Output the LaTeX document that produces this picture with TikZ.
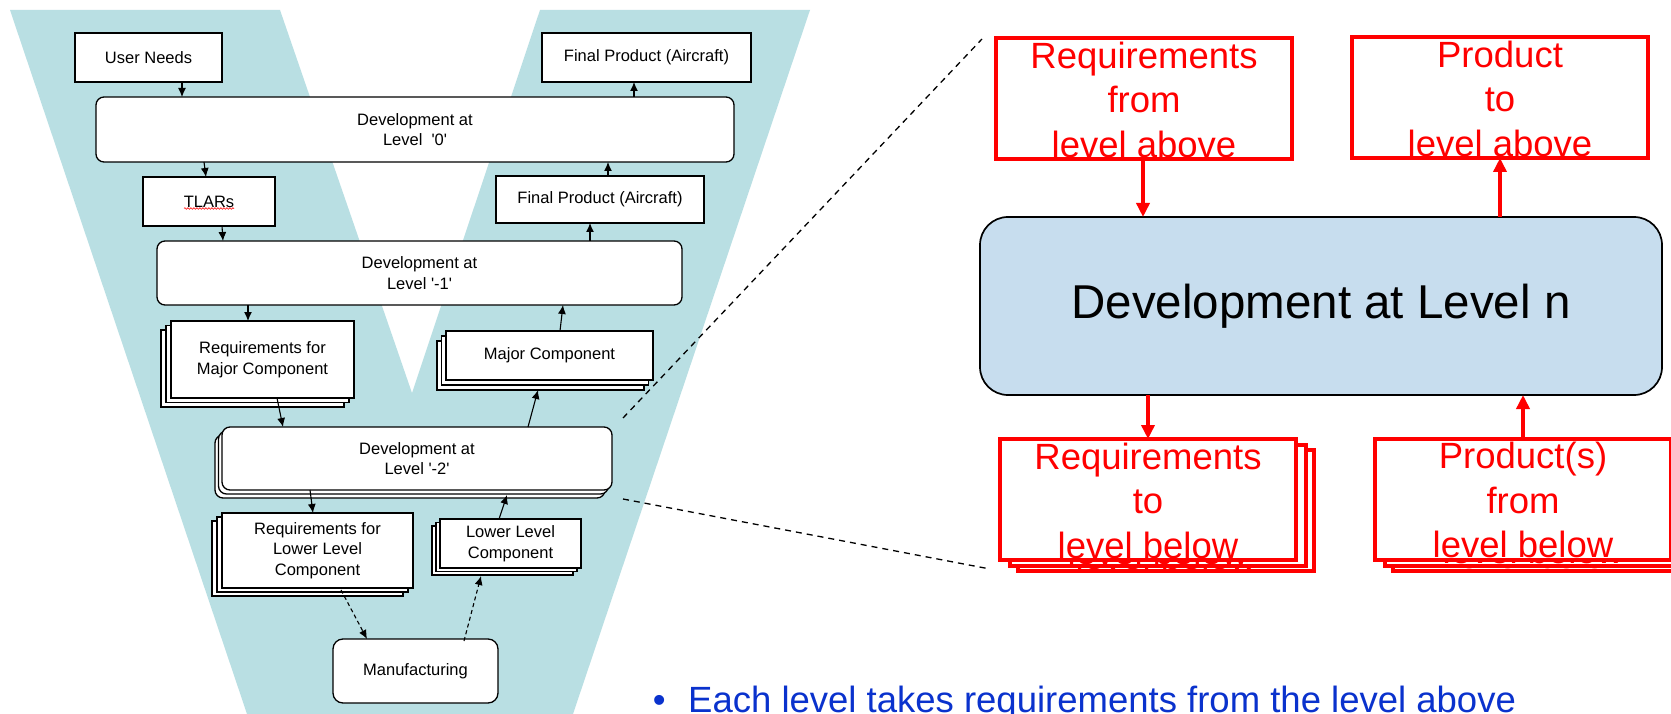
\documentclass[tikz,border=0pt]{standalone}
\usepackage{fontspec}
\setmainfont{Liberation Sans}
\usetikzlibrary{arrows.meta,shadows,decorations.pathmorphing}
\definecolor{vcyan}{RGB}{185,223,227}
\definecolor{devblue}{RGB}{199,221,238}
\definecolor{bulletblue}{RGB}{10,50,205}
\newcommand\lefttxt{\fontsize{16.5}{20.5}\selectfont}
\newcommand\redtxt{\fontsize{36.5}{44.5}\selectfont}
\newcommand\bigtxt{\fontsize{47.5}{57}\selectfont}
\newcommand\qs{\textquotesingle}
\newcommand\redlayer[4]{%
  \node[rbox] (#1) at (#2,#3) {};
  \node[rtext] (#1t) at ([yshift=-3.5pt]#1.north) {#4};}
\begin{document}
\begin{tikzpicture}[x=1pt,y=-1pt,
  lbox/.style={draw=black, line width=1.3pt, fill=white, inner sep=0pt, outer sep=0pt, font=\lefttxt, align=center},
  lround/.style={lbox, rounded corners=8pt},
  lshad/.style 2 args={
    copy shadow={shadow xshift=2*#1, shadow yshift=2*#2, draw=black, fill=white, line width=1.3pt},
    copy shadow={shadow xshift=#1, shadow yshift=#2, draw=black, fill=white, line width=1.3pt}},
  larr/.style={-{Latex[length=9pt,width=8pt]}, line width=1.1pt, draw=black},
  ldash/.style={larr, dash pattern=on 4pt off 3pt},
  zline/.style={draw=black, line width=1.3pt, dash pattern=on 6pt off 5pt},
  rbox/.style={draw=red, line width=4pt, fill=white, minimum width=296pt, minimum height=121pt, inner sep=0pt, outer sep=0pt},
  rtext/.style={text=red, font=\redtxt, align=center, inner sep=0pt, anchor=north},
  rarr/.style={draw=red, line width=3.5pt, -{Triangle[length=14pt,width=13pt]}}
]
\useasboundingbox (0,0) rectangle (1671,714);
\clip (0,0) rectangle (1671,714);
\fill[white] (0,0) rectangle (1671,714);

% V background
\fill[vcyan] (10,10) -- (280,10) -- (412,393) -- (540,10) -- (810,10) -- (573,714) -- (247,714) -- cycle;

% zoom lines
\coordinate (za1) at (623,418);
\coordinate (za2) at (982,39);
\coordinate (zb1) at (623,499);
\coordinate (zb2) at (990,569);
\draw[zline] (za1) -- (za2);
\draw[zline] (zb1) -- (zb2);

% left V nodes
\node[lbox, minimum width=147pt, minimum height=49pt] (un) at (148.5,57.5) {User Needs};
\node[lbox, minimum width=209pt, minimum height=49pt] (fp1) at (646.5,57.5) {Final Product (Aircraft)};
\node[lround, minimum width=638pt, minimum height=65pt] (d0) at (415,129.5) {Development at\\Level\hspace{0.55em}\qs 0\qs};
\node[lbox, minimum width=132pt, minimum height=49pt] (tl) at (209,201.5) {TLARs};
\node[lbox, minimum width=208pt, minimum height=47pt] (fp2) at (600,199.5) {Final Product (Aircraft)};
\node[lround, minimum width=525pt, minimum height=64pt] (d1) at (419.5,273) {Development at\\Level \qs-1\qs};
\node[lbox, lshad={-5pt}{-4.5pt}, minimum width=183pt, minimum height=77pt] (rm) at (262.5,359.5) {Requirements for\\Major Component};
\node[lbox, lshad={-4.5pt}{-5pt}, minimum width=207pt, minimum height=49pt] (mc) at (549.5,355.5) {Major Component};
\node[lround, lshad={-3.5pt}{-4pt}, minimum width=390pt, minimum height=63pt] (d2) at (417,458.5) {Development at\\Level \qs-2\qs};
\node[lbox, lshad={-5pt}{-4pt}, minimum width=191pt, minimum height=75pt] (rl) at (317.5,550.5) {Requirements for\\Lower Level\\Component};
\node[lbox, lshad={-4pt}{-3.5pt}, minimum width=141pt, minimum height=49pt] (ll) at (510.5,543.5) {Lower Level\\Component};
\node[lbox, rounded corners=10pt, minimum width=165pt, minimum height=64pt] (mf) at (415.5,671) {Manufacturing};

% spell-check underline under TLARs
\draw[red, line width=0.6pt, decorate, decoration={snake, amplitude=0.8pt, segment length=3pt}]
  ([xshift=-25pt,yshift=-7pt]tl.center) -- ([xshift=25pt,yshift=-7pt]tl.center);

% left arrows (down side)
\draw[larr] ([xshift=33.5pt]un.south) -- ([xshift=-233pt]d0.north);
\draw[larr] ([xshift=-211pt]d0.south) -- ([xshift=-3pt]tl.north);
\draw[larr] ([xshift=13pt]tl.south) -- ([xshift=-196.5pt]d1.north);
\draw[larr] ([xshift=-171.5pt]d1.south) -- ([xshift=-14.5pt]rm.north);
\draw[larr] ([xshift=14.5pt]rm.south) -- ([xshift=-134pt]d2.north);
\draw[larr] ([xshift=-107pt]d2.south) -- ([xshift=-4.5pt]rl.north);
\draw[ldash] ([xshift=23.5pt,yshift=-2pt]rl.south) -- ([xshift=-48.5pt]mf.north);
% left arrows (up side)
\draw[ldash] ([xshift=48.5pt,yshift=-2pt]mf.north) -- ([xshift=-29.5pt,yshift=-8pt]ll.south);
\draw[larr] ([xshift=-11.5pt]ll.north) -- ([xshift=90pt,yshift=-5pt]d2.south);
\draw[larr] ([xshift=111pt]d2.north) -- ([xshift=-11.5pt,yshift=-10pt]mc.south);
\draw[larr] ([xshift=10.5pt]mc.north) -- ([xshift=143.5pt]d1.south);
\draw[larr] ([xshift=170.5pt]d1.north) -- ([xshift=-10pt]fp2.south);
\draw[larr] ([xshift=8pt]fp2.north) -- ([xshift=193pt]d0.south);
\draw[larr] ([xshift=219pt]d0.north) -- ([xshift=-12.5pt]fp1.south);

% right side
\redlayer{rf}{1144}{98.5}{Requirements\\from\\level above}
\redlayer{pt}{1500}{97.5}{Product\\to\\level above}
\node[draw=black, line width=1.7pt, fill=devblue, rounded corners=28pt, minimum width=682pt, minimum height=178pt,
      font=\bigtxt, inner sep=0pt, outer sep=0pt] (dn) at (1321,306) {Development at Level n};
\redlayer{rt3}{1166}{510.5}{Requirements\\to\\level below}
\redlayer{rt2}{1158}{505.5}{Requirements\\to\\level below}
\redlayer{rt}{1148}{499.5}{Requirements\\to\\level below}
\redlayer{ps3}{1541}{510}{Product(s)\\from\\level below}
\redlayer{ps2}{1533}{505}{Product(s)\\from\\level below}
\redlayer{ps}{1523}{499}{Product(s)\\from\\level below}

\draw[rarr] ([xshift=-1pt]rf.south) -- ([xshift=-178pt]dn.north);
\draw[rarr] ([xshift=179pt]dn.north) -- (pt.south);
\draw[rarr] ([xshift=-173pt]dn.south) -- (rt.north);
\draw[rarr] (ps.north) -- ([xshift=202pt]dn.south);

% bullet text
\node[font=\redtxt, text=bulletblue, anchor=base west, inner sep=0pt] (bul) at (652.6,712)
  {\textbullet\hspace{22.6pt}Each level takes requirements from the level above};
\end{tikzpicture}
\end{document}
